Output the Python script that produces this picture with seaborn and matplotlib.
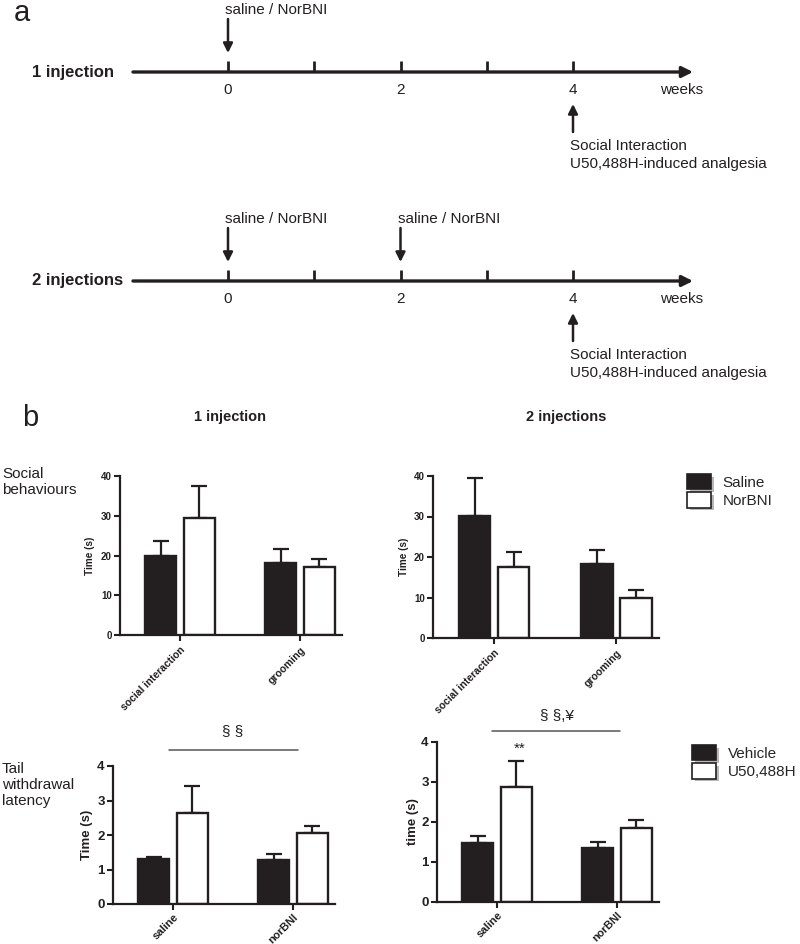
import numpy as np
import pandas as pd
import matplotlib
matplotlib.use("Agg")
import matplotlib.pyplot as plt
import matplotlib.patheffects as pe
from matplotlib.patches import Patch
import seaborn as sns

# ---------------- data ----------------
weeks = [0, 1, 2, 3, 4]
week_labels = ["0", "", "2", "", "4"]
inj1_times = [0]
inj2_times = [0, 2]
test_time = 4

social_cats = ["social interaction", "grooming"]
social_groups = ["Saline", "NorBNI"]
inj1_saline = [20.0, 18.1]
inj1_saline_sem = [3.7, 3.5]
inj1_norbni = [29.5, 17.1]
inj1_norbni_sem = [8.1, 1.9]
inj2_saline = [30.1, 18.3]
inj2_saline_sem = [9.3, 3.4]
inj2_norbni = [17.6, 9.8]
inj2_norbni_sem = [3.6, 2.1]

tail_cats = ["saline", "norBNI"]
tail_groups = ["Vehicle", "U50,488H"]
inj1_vehicle = [1.31, 1.27]
inj1_vehicle_sem = [0.06, 0.17]
inj1_u50 = [2.64, 2.07]
inj1_u50_sem = [0.77, 0.19]
inj2_vehicle = [1.48, 1.34]
inj2_vehicle_sem = [0.17, 0.16]
inj2_u50 = [2.87, 1.86]
inj2_u50_sem = [0.65, 0.18]

# ---------------- style ----------------
sns.set_style("ticks")
plt.rcParams["font.family"] = ["Liberation Sans", "DejaVu Sans"]
DARK = "#231f20"
W, H = 800, 944
fig = plt.figure(figsize=(8, 9.44), dpi=100)


def fx(px):
    return px / W


def fy(py):
    return 1 - py / H


# ---------------- panel a : timelines ----------------
PXW0, PXW = 228.0, 86.25  # pixel of week 0, pixels per week
ax_t = fig.add_axes([0, 0, 1, 1])
ax_t.set_xlim((0 - PXW0) / PXW, (W - PXW0) / PXW)
ax_t.set_ylim(H, 0)
ax_t.axis("off")


def wk(px):
    return (px - PXW0) / PXW


def timeline(yl, label, inj):
    ax_t.annotate("", xy=(wk(693), yl), xytext=(wk(133), yl),
                  arrowprops=dict(arrowstyle="-|>", lw=2.4, color=DARK,
                                  mutation_scale=16, shrinkA=0, shrinkB=0))
    ax_t.vlines(weeks, yl - 11, yl, color=DARK, lw=2)
    for w, lab in zip(weeks, week_labels):
        if lab:
            ax_t.text(w, yl + 18, lab, ha="center", va="center", fontsize=11, color=DARK)
    ax_t.text(wk(660), yl + 18, "weeks", ha="left", va="center", fontsize=11, color=DARK)
    ax_t.text(wk(32), yl, label, ha="left", va="center", fontsize=12,
              fontweight="bold", color=DARK)
    for w in inj:
        ax_t.annotate("", xy=(w, yl - 19), xytext=(w, yl - 53),
                      arrowprops=dict(arrowstyle="-|>", lw=1.8, color=DARK,
                                      mutation_scale=14, shrinkA=0, shrinkB=0))
        ax_t.text(w - 0.03, yl - 62, "saline / NorBNI", ha="left", va="center",
                  fontsize=11, color=DARK)
    ax_t.annotate("", xy=(test_time, yl + 32), xytext=(test_time, yl + 60),
                  arrowprops=dict(arrowstyle="-|>", lw=1.8, color=DARK,
                                  mutation_scale=14, shrinkA=0, shrinkB=0))
    ax_t.text(test_time - 0.03, yl + 74, "Social Interaction", ha="left", va="center",
              fontsize=11, color=DARK)
    ax_t.text(test_time - 0.03, yl + 92, "U50,488H-induced analgesia", ha="left",
              va="center", fontsize=11, color=DARK)


timeline(72, "1 injection", inj1_times)
timeline(281, "2 injections", inj2_times)

fig.text(fx(14), fy(21), "a", fontsize=21, ha="left", va="baseline", color=DARK)
fig.text(fx(22), fy(418), "b", fontsize=21, ha="left", va="center", color=DARK)
fig.text(fx(230), fy(417), "1 injection", fontsize=10.5, fontweight="bold",
         ha="center", va="center", color=DARK)
fig.text(fx(566), fy(417), "2 injections", fontsize=10.5, fontweight="bold",
         ha="center", va="center", color=DARK)
fig.text(fx(2), fy(482), "Social\nbehaviours", fontsize=11, ha="left", va="center",
         color=DARK, linespacing=1.2)
fig.text(fx(2), fy(785), "Tail\nwithdrawal\nlatency", fontsize=11, ha="left",
         va="center", color=DARK, linespacing=1.2)


# ---------------- panel b : bar charts ----------------
def bar_panel(x0, x1, ytop, ybot, cats, groups, va, ea, vb, eb, ymax, yticks,
              ylabel, lab_x, small):
    ax = fig.add_axes([fx(x0), fy(ybot), (x1 - x0) / W, (ybot - ytop) / H])
    df = pd.DataFrame({"cat": cats * 2,
                       "group": [groups[0]] * len(cats) + [groups[1]] * len(cats),
                       "val": va + vb})
    sns.barplot(data=df, x="cat", y="val", hue="group", order=cats, hue_order=groups,
                palette=[DARK, "white"], edgecolor=DARK, linewidth=1.7, width=0.64,
                gap=0.19, errorbar=None, legend=False, saturation=1, ax=ax)
    errs = [ea, eb]
    for p in list(ax.patches):
        cx = p.get_x() + p.get_width() / 2
        ci = int(round(cx))
        hi = 0 if cx < ci else 1
        ax.errorbar(cx, p.get_height(), yerr=[[0], [errs[hi][ci]]], fmt="none",
                    ecolor=DARK, elinewidth=1.6, capsize=5.5, capthick=1.6,
                    zorder=p.get_zorder() - 0.5)
    ax.set_xlim(-0.5, 1.35)
    ax.set_ylim(0, ymax)
    ax.set_yticks(yticks)
    sns.despine(ax=ax)
    for s in ("left", "bottom"):
        ax.spines[s].set_linewidth(1.6)
        ax.spines[s].set_color(DARK)
    fs_tick = 7 if small else 9.5
    ax.tick_params(axis="both", length=4, width=1.5, color=DARK, pad=2)
    ax.set_yticklabels([str(t) for t in yticks], fontsize=fs_tick, fontweight="bold",
                       color=DARK)
    ax.set_xticks(range(len(cats)))
    ax.set_xticklabels(cats, rotation=45, ha="right", rotation_mode="anchor",
                       fontsize=7.5 if small else 8.0, fontweight="bold", color=DARK)
    ax.tick_params(axis="x", pad=3 if small else 1.5)
    ax.set_xlabel("")
    ax.set_ylabel(ylabel, fontsize=7.2 if small else 9.5, fontweight="bold", color=DARK)
    ax.yaxis.set_label_coords((lab_x - x0) / (x1 - x0), 0.5)
    ax.set_facecolor("none")
    return ax


ax1 = bar_panel(120, 342, 476, 635, social_cats, social_groups, inj1_saline,
                inj1_saline_sem, inj1_norbni, inj1_norbni_sem, 40, [0, 10, 20, 30, 40],
                "Time (s)", 95, True)
ax2 = bar_panel(433, 659, 476, 638, social_cats, social_groups, inj2_saline,
                inj2_saline_sem, inj2_norbni, inj2_norbni_sem, 40, [0, 10, 20, 30, 40],
                "Time (s)", 409, True)
ax3 = bar_panel(113, 335, 766, 904, tail_cats, tail_groups, inj1_vehicle,
                inj1_vehicle_sem, inj1_u50, inj1_u50_sem, 4, [0, 1, 2, 3, 4],
                "Time (s)", 93, False)
ax4 = bar_panel(437, 659, 742, 902, tail_cats, tail_groups, inj2_vehicle,
                inj2_vehicle_sem, inj2_u50, inj2_u50_sem, 4, [0, 1, 2, 3, 4],
                "time (s)", 419, False)

# significance markers
ax3.plot([-0.03, 1.04], [4.46, 4.46], color="#555555", lw=1.1, clip_on=False)
ax3.text(0.5, 5.02, "§ §", ha="center", va="center", fontsize=11, color=DARK)
ax4.plot([-0.04, 1.025], [4.28, 4.28], color="#555555", lw=1.1, clip_on=False)
ax4.text(0.5, 4.66, "§ §,¥", ha="center", va="center", fontsize=11, color=DARK)
ax4.text(0.19, 3.84, "**", ha="center", va="center", fontsize=11, color=DARK)

# legends
shadow = [pe.SimplePatchShadow(offset=(2, -2), shadow_rgbFace="#9a9a9a", alpha=0.7),
          pe.Normal()]


def add_legend(labels, xpx, ypx):
    handles = [Patch(facecolor=DARK, edgecolor=DARK, lw=1.2, path_effects=shadow),
               Patch(facecolor="white", edgecolor=DARK, lw=1.2, path_effects=shadow)]
    fig.legend(handles, labels, loc="upper left", bbox_to_anchor=(fx(xpx), fy(ypx)),
               frameon=False, fontsize=11, handlelength=1.57, handleheight=1.18,
               handletextpad=0.75, labelspacing=0.15, borderpad=0, borderaxespad=0)


add_legend(social_groups, 687, 474)
add_legend(tail_groups, 692, 745)

fig.savefig("out.png", dpi=100)
